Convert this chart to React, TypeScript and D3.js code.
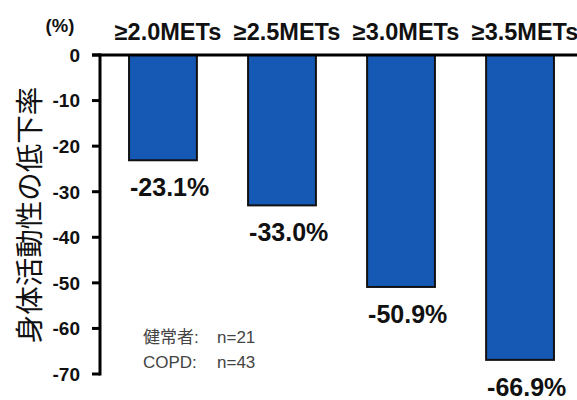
import React from "react";
import * as d3 from "d3";

const categories = ["≥2.0METs", "≥2.5METs", "≥3.0METs", "≥3.5METs"];
const values = [-23.1, -33.0, -50.9, -66.9];
const valueLabels = ["-23.1%", "-33.0%", "-50.9%", "-66.9%"];
const yTicks = [0, -10, -20, -30, -40, -50, -60, -70];
const yTitle = "身体活動性の低下率";
const unitLabel = "(%)";
const legendRows = [
  ["健常者:", "n=21"],
  ["COPD:", "n=43"],
];

const W = 577;
const H = 400;
const FONT = "'Liberation Sans', Arial, 'Noto Sans CJK JP', sans-serif";

export default function App() {
  const x = d3
    .scaleBand<string>()
    .domain(categories)
    .range([100, 583])
    .paddingInner(0.43)
    .paddingOuter(0.244);
  const y = d3.scaleLinear().domain([-70, 0]).range([374, 55]);

  return (
    <svg
      width={W}
      height={H}
      style={{ position: "absolute", left: 0, top: 0, background: "#fff" }}
    >
      <rect width={W} height={H} fill="#fff" />
      {/* bars */}
      {categories.map((c, i) => (
        <rect
          key={c}
          x={x(c)}
          y={y(0)}
          width={x.bandwidth()}
          height={y(values[i]) - y(0)}
          fill="#1659b5"
          stroke="#111"
          strokeWidth={2}
        />
      ))}
      {/* axis */}
      <line x1={100} x2={100} y1={y(0) - 1.5} y2={y(-70) + 1.5} stroke="#000" strokeWidth={3} />
      <line x1={92} x2={W} y1={y(0)} y2={y(0)} stroke="#000" strokeWidth={3} />
      {yTicks.map((t) => (
        <g key={t}>
          <line x1={92} x2={100} y1={y(t)} y2={y(t)} stroke="#000" strokeWidth={3} />
          <text
            x={80}
            y={y(t)}
            dy="0.36em"
            textAnchor="end"
            fontFamily={FONT}
            fontWeight="bold"
            fontSize={19}
            fill="#111"
          >
            {t}
          </text>
        </g>
      ))}
      {/* unit */}
      <text x={60} y={32} textAnchor="middle" fontFamily={FONT} fontWeight="bold" fontSize={18.5} fill="#111">
        {unitLabel}
      </text>
      {/* category labels */}
      {categories.map((c) => (
        <text
          key={c}
          x={(x(c) as number) + x.bandwidth() / 2 + 5}
          y={40}
          textAnchor="middle"
          fontFamily={FONT}
          fontWeight="bold"
          fontSize={23.5}
          fill="#111"
        >
          {c}
        </text>
      ))}
      {/* value labels */}
      {categories.map((c, i) => (
        <text
          key={c}
          x={(x(c) as number) + 1}
          y={y(values[i]) + 36}
          textAnchor="start"
          fontFamily={FONT}
          fontWeight="bold"
          fontSize={25}
          fill="#111"
        >
          {valueLabels[i]}
        </text>
      ))}
      {/* y title */}
      <text
        transform={`translate(27, 215) rotate(-90)`}
        textAnchor="middle"
        dominantBaseline="central"
        fontFamily="'Noto Sans CJK JP', sans-serif"
        fontSize={28.5}
        fill="#111"
      >
        {yTitle}
      </text>
      {/* legend */}
      {legendRows.map((r, i) => (
        <g key={i}>
          <text x={143} y={343 + i * 25} fontFamily={FONT} fontSize={17} fill="#444">
            {r[0]}
          </text>
          <text x={217} y={343 + i * 25} fontFamily={FONT} fontSize={17} fill="#444">
            {r[1]}
          </text>
        </g>
      ))}
    </svg>
  );
}
